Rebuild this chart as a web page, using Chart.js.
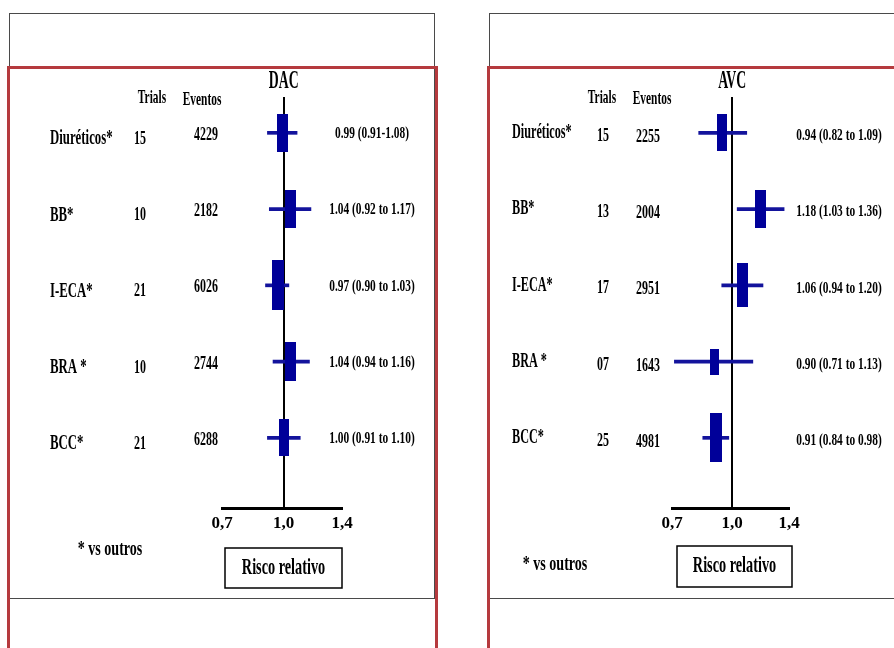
<!DOCTYPE html>
<html>
<head>
<meta charset="utf-8">
<script src="https://cdn.jsdelivr.net/npm/chart.js@4.4.0/dist/chart.umd.min.js"></script>
<style>
  html, body { margin: 0; padding: 0; background: #fff; }
  body { width: 894px; height: 648px; position: relative; overflow: hidden; }
  .frame { position: absolute; box-sizing: border-box; }
  .gray { border: 1px solid #4a4a4a; }
  .red { border: 3px solid #b53a3e; }
  canvas { position: absolute; top: 0; }
</style>
</head>
<body>
<div class="frame gray" style="left:9px;top:13px;width:426px;height:586px"></div>
<div class="frame red" style="left:7px;top:66px;width:431px;height:640px"></div>
<div class="frame gray" style="left:489px;top:13px;width:500px;height:586px"></div>
<div class="frame red" style="left:487px;top:66px;width:500px;height:640px"></div>
<canvas id="dac" width="447" height="648" style="left:0"></canvas>
<canvas id="avc" width="447" height="648" style="left:447px"></canvas>
<script>
// categories shared by both panels
const categories = ['Diuréticos*', 'BB*', 'I-ECA*', 'BRA *', 'BCC*'];
const xTicks = [0.7, 1.0, 1.4];

// DAC
const dacTrials = ['15', '10', '21', '10', '21'];
const dacEvents = [4229, 2182, 6026, 2744, 6288];
const dacRR = [0.99, 1.04, 0.97, 1.04, 1.00];
const dacLow = [0.91, 0.92, 0.90, 0.94, 0.91];
const dacHigh = [1.08, 1.17, 1.03, 1.16, 1.10];
const dacWeight = [0.76, 0.76, 1.0, 0.78, 0.74];
const dacCI = ['0.99 (0.91-1.08)', '1.04 (0.92 to 1.17)', '0.97 (0.90 to 1.03)', '1.04 (0.94 to 1.16)', '1.00 (0.91 to 1.10)'];

// AVC
const avcTrials = ['15', '13', '17', '07', '25'];
const avcEvents = [2255, 2004, 2951, 1643, 4981];
const avcRR = [0.94, 1.18, 1.06, 0.90, 0.91];
const avcLow = [0.82, 1.03, 0.94, 0.71, 0.84];
const avcHigh = [1.09, 1.36, 1.20, 1.13, 0.98];
const avcWeight = [0.74, 0.76, 0.88, 0.52, 0.98];
const avcCI = ['0.94 (0.82 to 1.09)', '1.18 (1.03 to 1.36)', '1.06 (0.94 to 1.20)', '0.90 (0.71 to 1.13)', '0.91 (0.84 to 0.98)'];

const BOX_COLOR = '#000099';
const WHISKER_COLOR = '#13139c';

// condensed bold serif text, like the original slide
function say(ctx, s, x, y, size, sx, align) {
    ctx.save();
    ctx.font = 'bold ' + size + 'px "Liberation Serif"';
    ctx.textAlign = align || 'center';
    ctx.textBaseline = 'middle';
    ctx.fillStyle = '#000';
    ctx.translate(x, y);
    ctx.scale(sx, 1);
    ctx.fillText(s, 0, 0);
    ctx.restore();
}

function boxImages(weights) {
    return weights.map(w => {
        const c = document.createElement('canvas');
        c.width = Math.round(6 + 6 * w);
        c.height = Math.round(50 * w);
        const g = c.getContext('2d');
        g.fillStyle = BOX_COLOR;
        g.fillRect(0, 0, c.width, c.height);
        return c;
    });
}

const textPlugin = {
    id: 'forestText',
    afterDraw(chart, args, o) {
        const ctx = chart.ctx;
        const xs = chart.scales.x;
        const ys = chart.scales.y;
        const rowY = i => ys.getPixelForValue(i);

        say(ctx, o.title, xs.getPixelForValue(1), 82, 25, 0.55);
        say(ctx, 'Trials', o.head[0], o.head[1], 19, 0.6);
        say(ctx, 'Eventos', o.head[2], o.head[3], 19, 0.6);

        categories.forEach((c, i) => {
            say(ctx, c, o.labelX, rowY(i) + o.dy[0], o.labelSize, 0.61, 'left');
            say(ctx, o.trials[i], o.trialsX, rowY(i) + o.dy[1], 19, 0.63);
            say(ctx, String(o.events[i]), o.eventsX, rowY(i) + o.dy[2], 19, 0.63);
            say(ctx, o.ci[i], o.ciX, rowY(i) + o.dy[3], 17, 0.67);
        });

        say(ctx, '* vs outros', o.note[0], o.note[1], 21, 0.67);

        const b = o.rrBox;
        ctx.save();
        ctx.strokeStyle = '#000';
        ctx.lineWidth = 1.5;
        ctx.strokeRect(b[0], b[1], b[2] - b[0], b[3] - b[1]);
        ctx.restore();
        say(ctx, 'Risco relativo', (b[0] + b[2]) / 2, (b[1] + b[3]) / 2, 23, 0.62);
    }
};

function makeForest(id, d) {
    return new Chart(document.getElementById(id), {
        type: 'bar',
        data: {
            datasets: [
                {
                    type: 'scatter',
                    data: d.rr.map((v, i) => ({ x: v, y: i })),
                    pointStyle: boxImages(d.weight),
                    pointRadius: 5,
                    order: 0
                },
                {
                    type: 'bar',
                    indexAxis: 'y',
                    data: d.low.map((v, i) => ({ x: [v, d.high[i]], y: i })),
                    backgroundColor: WHISKER_COLOR,
                    barThickness: 3,
                    order: 1
                }
            ]
        },
        options: {
            responsive: false,
            animation: false,
            layout: { padding: { left: d.areaLeft, right: 105, top: 97, bottom: 100 } },
            plugins: {
                legend: { display: false },
                tooltip: { enabled: false },
                forestText: d.text
            },
            scales: {
                x: {
                    type: 'logarithmic',
                    min: 0.7,
                    max: 1.4,
                    offset: false,
                    afterBuildTicks: s => { s.ticks = xTicks.map(v => ({ value: v })); },
                    afterFit: s => { s.height = 40; },
                    grid: {
                        offset: false,
                        drawTicks: false,
                        lineWidth: 2,
                        color: c => (c.tick && c.tick.value === 1 ? '#000' : 'rgba(0,0,0,0)')
                    },
                    border: { display: true, color: '#000', width: 3 },
                    ticks: {
                        padding: 5,
                        color: '#000',
                        font: { family: '"Liberation Serif"', weight: 'bold', size: 17 },
                        callback: v => v.toFixed(1).replace('.', ',')
                    }
                },
                y: {
                    type: 'linear', reverse: true, min: -0.47, max: 4.92,
                    offset: false, grid: { offset: false }, display: false
                }
            }
        },
        plugins: [textPlugin]
    });
}

makeForest('dac', {
    rr: dacRR, low: dacLow, high: dacHigh, weight: dacWeight, areaLeft: 222,
    text: {
        title: 'DAC', head: [152, 98, 202, 100],
        labelX: 50, labelSize: 21, trialsX: 140, eventsX: 206, ciX: 372,
        dy: [6, 6, 2, 1],
        trials: dacTrials, events: dacEvents, ci: dacCI,
        note: [110, 550], rrBox: [225, 548, 342, 588]
    }
});

makeForest('avc', {
    rr: avcRR, low: avcLow, high: avcHigh, weight: avcWeight, areaLeft: 225,
    text: {
        title: 'AVC', head: [155, 98, 205, 99],
        labelX: 65, labelSize: 20, trialsX: 156, eventsX: 201, ciX: 392,
        dy: [0, 3, 4, 3],
        trials: avcTrials, events: avcEvents, ci: avcCI,
        note: [108, 565], rrBox: [230, 546, 345, 587]
    }
});
</script>
</body>
</html>
